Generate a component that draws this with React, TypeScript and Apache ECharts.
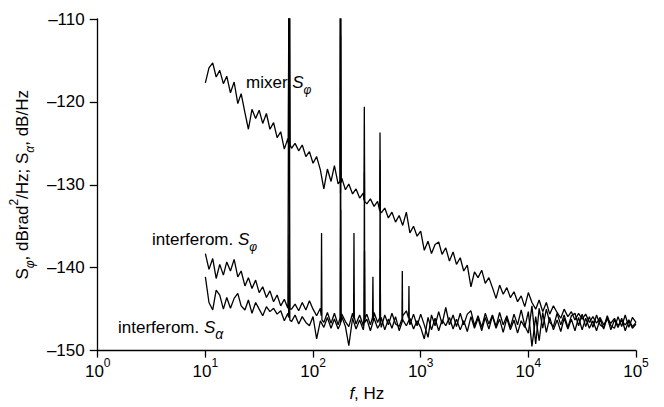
import React, { useEffect, useRef } from 'react';
import * as echarts from 'echarts';

const FONT = '"Liberation Sans", Arial, Helvetica, sans-serif';

// Frequency grid, Hz
const FREQ = [
  10, 10.8, 11.7, 12.6, 13.6, 14.7, 15.8, 17.1, 18.5, 20.0,
  21.5, 23.3, 25.1, 27.1, 29.3, 31.6, 34.1, 36.9, 39.8, 43.0,
  46.4, 50.1, 54.1, 58.4, 63.1, 68.1, 73.6, 79.4, 85.8, 92.6,
  100, 108, 117, 126, 136, 147, 158, 171, 185, 200,
  215, 233, 251, 271, 293, 316, 341, 369, 398, 430,
  464, 501, 541, 584, 631, 681, 736, 794, 858, 926,
  1000, 1080, 1170, 1260, 1360, 1470, 1580, 1710, 1850, 2000,
  2150, 2330, 2510, 2710, 2930, 3160, 3410, 3690, 3980, 4300,
  4640, 5010, 5410, 5840, 6310, 6810, 7360, 7940, 8580, 9260,
  10000, 10800, 11700, 12600, 13600, 14700, 15800, 17100, 18500, 20000,
  21500, 23300, 25100, 27100, 29300, 31600, 34100, 36900, 39800, 43000,
  46400, 50100, 54100, 58400, 63100, 68100, 73600, 79400, 85800, 92600,
  100000,
];

// mixer S_phi, dBrad^2/Hz
const MIXER = [
  -117.7, -115.9, -115.3, -117.0, -116.2, -117.8, -116.9, -118.9, -117.6, -120.2,
  -119.0, -121.3, -123.3, -120.9, -122.0, -121.0, -122.6, -121.4, -123.3, -122.5,
  -124.3, -123.6, -125.7, -124.4, -125.6, -125.0, -125.9, -125.2, -126.6, -126.0,
  -127.4, -126.6, -128.2, -130.5, -128.1, -129.6, -127.7, -129.9, -129.2, -130.6,
  -129.9, -131.1, -130.5, -131.6, -131.0, -132.3, -131.7, -132.6, -132.0, -133.4,
  -132.8, -134.0, -133.3, -134.5, -133.7, -134.9, -133.3, -135.8, -135.0, -136.2,
  -135.6, -137.9, -136.8, -138.3, -137.2, -136.9, -138.4, -137.6, -139.2, -138.1,
  -139.6, -138.8, -140.4, -139.7, -142.3, -140.5, -141.2, -140.3, -141.9, -141.2,
  -142.4, -143.7, -142.1, -143.2, -142.4, -143.6, -142.9, -144.1, -143.4, -144.7,
  -143.0, -144.2, -145.0, -143.9, -145.3, -144.2, -145.6, -144.6, -145.4, -146.1,
  -145.0, -145.9, -145.3, -146.3, -145.5, -146.2, -145.6, -146.6, -145.9, -146.7,
  -146.0, -146.9, -146.2, -146.7, -146.1, -147.0, -146.4, -146.9, -146.3, -147.1,
  -146.6,
];

// interferometer S_phi, dBrad^2/Hz
const INT_PHI = [
  -138.3, -140.2, -138.9, -141.3, -139.6, -140.9, -139.3, -140.4, -139.0, -141.1,
  -140.4, -142.2, -141.2, -142.5, -141.5, -143.0, -142.3, -143.6, -142.8, -144.1,
  -143.3, -144.6, -143.8, -144.9, -145.0, -144.4, -145.2, -144.2, -145.1, -144.0,
  -145.0, -145.8, -144.9, -146.6, -145.4, -146.7, -145.5, -146.9, -145.6, -146.5,
  -147.1, -145.5, -146.8, -145.7, -147.0, -145.6, -146.9, -145.4, -146.6, -147.2,
  -145.7, -146.9, -145.5, -146.8, -147.1, -145.8, -145.2, -146.9, -145.6, -147.0,
  -145.6, -146.9, -148.4, -145.7, -147.0, -145.3, -146.8, -144.8, -146.9, -145.7,
  -147.1, -145.5, -146.9, -145.6, -145.2, -147.0, -145.8, -147.2, -145.5, -146.8,
  -145.7, -147.1, -145.4, -146.9, -145.8, -147.2, -145.6, -146.9, -145.1, -147.0,
  -147.9, -144.6, -149.2, -144.9, -147.3, -145.0, -146.6, -147.1, -145.5, -146.9,
  -145.7, -147.2, -145.8, -145.5, -147.0, -145.6, -147.1, -145.9, -147.2, -145.7,
  -146.9, -147.2, -145.8, -147.0, -147.3, -145.9, -147.1, -145.7, -147.2, -146.0,
  -146.6,
];

// interferometer S_alpha, dB/Hz
const INT_ALPHA = [
  -141.1, -144.2, -145.1, -142.7, -143.3, -145.0, -143.6, -144.9, -143.7, -143.1,
  -144.6, -145.1, -143.9, -145.5, -144.2, -145.0, -145.8, -144.7, -145.3, -144.9,
  -145.6, -145.2, -146.4, -145.5, -146.5, -145.7, -146.8, -145.9, -146.6, -147.0,
  -145.9, -148.6, -146.4, -147.2, -146.0, -147.3, -146.2, -147.4, -145.9, -147.1,
  -149.4, -146.1, -147.4, -146.3, -147.5, -146.2, -147.6, -146.1, -147.3, -146.0,
  -147.5, -146.2, -147.3, -145.9, -147.6, -146.3, -147.0, -146.1, -147.4, -146.4,
  -147.2, -148.6, -146.0, -147.5, -146.1, -147.6, -146.3, -147.0, -146.0, -147.4,
  -146.2, -147.5, -146.4, -147.7, -145.9, -147.3, -146.1, -147.6, -146.0, -147.4,
  -145.8, -147.3, -146.2, -147.8, -146.1, -147.5, -146.3, -147.9, -146.4, -147.2,
  -145.3, -149.5, -145.9, -148.8, -145.4, -147.8, -146.0, -147.5, -146.3, -147.7,
  -146.1, -147.4, -146.2, -147.6, -146.0, -147.5, -146.1, -147.3, -146.4, -147.6,
  -146.2, -147.4, -146.0, -147.5, -146.3, -147.2, -146.1, -147.6, -146.4, -147.3,
  -146.8,
];

// mains-harmonic spikes [f, value]
const MIXER_SPIKES = [
  [59.0, -125.0], [59.6, -105], [60.2, -146], [60.8, -105], [61.4, -125.2],
  [177.5, -129.6], [178.5, -105], [180.0, -131], [181.5, -105], [183.0, -129.7],
  [297, -131.9], [299.5, -120.6], [302, -132.0],
  [416, -133.1], [419, -123.7], [422, -133.2],
];
const INT_PHI_SPIKES = [
  [59.1, -144.9], [59.7, -105], [60.4, -105], [61.0, -145.0],
  [119, -145.8], [120, -135.8], [121, -146.3],
  [178.8, -146.0], [180.2, -112], [181.6, -146.2],
  [238, -146.1], [240, -135.8], [242, -146.0],
  [297.5, -146.1], [300, -128.5], [302.5, -146.2],
  [357, -146.0], [360, -141.1], [363, -146.4],
  [417, -146.0], [420, -127], [423, -146.3],
  [670, -146.2], [675, -140.4], [679, -146.3],
  [773, -146.1], [778, -142.2], [783, -146.4],
];
const INT_ALPHA_SPIKES = [
  [59.3, -146.0], [60.1, -136], [60.9, -146.3],
  [179.2, -146.8], [180.6, -133], [182, -146.6],
  [298.5, -146.7], [300.8, -138], [303, -146.6],
  [418.5, -146.8], [421, -139], [423.5, -146.5],
];

function build(vals: number[], spikes: number[][]) {
  const pts = FREQ.map((f, i) => [f, vals[i]]);
  return pts.concat(spikes).sort((a, b) => a[0] - b[0]);
}

export default function App() {
  const ref = useRef<HTMLDivElement>(null);
  useEffect(() => {
    const chart = echarts.init(ref.current!, null, { renderer: 'svg' });
    const line = (name: string, data: number[][]) => ({
      name,
      type: 'line',
      data,
      showSymbol: false,
      symbol: 'none',
      clip: true,
      lineStyle: { color: '#000', width: 1.3 },
      z: 2,
    });
    const txt = { fontFamily: FONT, color: '#000' };
    const labelRich = (subSize: number) => ({
      i: { fontSize: 17, fontFamily: FONT, fontStyle: 'italic', lineHeight: 28 },
      sub: { fontSize: subSize, fontFamily: FONT, fontStyle: 'italic', lineHeight: subSize, verticalAlign: 'bottom' },
    });
    const label = (x: number, y: number, text: string, subSize: number) => ({
      type: 'text',
      x,
      y,
      style: {
        text,
        fontSize: 17,
        fontFamily: FONT,
        fill: '#000',
        lineHeight: 28,
        verticalAlign: 'middle',
        rich: labelRich(subSize),
      },
    });
    chart.setOption({
      animation: false,
      backgroundColor: '#fff',
      textStyle: { fontFamily: FONT },
      grid: { left: 96, right: 28, top: 19, bottom: 55, containLabel: false },
      xAxis: {
        type: 'log',
        logBase: 10,
        min: 1,
        max: 100000,
        splitLine: { show: false },
        minorTick: { show: false },
        axisLine: { lineStyle: { color: '#000', width: 1.3 } },
        axisTick: { length: 7, lineStyle: { color: '#000', width: 1.3 } },
        axisLabel: {
          margin: 6,
          formatter: (v: number) => `{b|10}{sup|${Math.round(Math.log10(v))}}`,
          rich: {
            b: { ...txt, fontSize: 17, lineHeight: 30 },
            sup: { ...txt, fontSize: 12, lineHeight: 12, verticalAlign: 'top' },
          },
        },
        name: '{i|f}{t|, Hz}',
        nameLocation: 'middle',
        nameGap: 17,
        nameTextStyle: {
          rich: {
            i: { ...txt, fontSize: 17, lineHeight: 20, fontStyle: 'italic' },
            t: { ...txt, fontSize: 17, lineHeight: 20 },
          },
        },
      },
      yAxis: {
        type: 'value',
        min: -150,
        max: -110,
        interval: 10,
        splitLine: { show: false },
        axisLine: { show: true, lineStyle: { color: '#000', width: 1.3 } },
        axisTick: { show: true, length: 8, lineStyle: { color: '#000', width: 1.3 } },
        axisLabel: {
          margin: 13,
          fontSize: 17,
          fontFamily: FONT,
          color: '#000',
          formatter: (v: number) => (v < 0 ? '\u2013' + Math.abs(v) : String(v)),
        },
        name: '{t|S}{sub|φ}{t|, dBrad}{sup|2}{t|/Hz; S}{sub|α}{t|, dB/Hz}',
        nameLocation: 'middle',
        nameGap: 49,
        nameTextStyle: {
          rich: {
            t: { ...txt, fontSize: 17, lineHeight: 28 },
            sub: { ...txt, fontSize: 12, lineHeight: 12, fontStyle: 'italic', verticalAlign: 'bottom' },
            sup: { ...txt, fontSize: 12, lineHeight: 12, verticalAlign: 'top' },
          },
        },
      },
      graphic: [
        label(246, 82, 'mixer {i|S}{sub|φ}', 12),
        label(152, 239, 'interferom. {i|S}{sub|φ}', 12),
        label(118, 327, 'interferom. {i|S}{sub|α}', 14),
      ],
      series: [
        line('interferom. S_alpha', build(INT_ALPHA, INT_ALPHA_SPIKES)),
        line('interferom. S_phi', build(INT_PHI, INT_PHI_SPIKES)),
        line('mixer S_phi', build(MIXER, MIXER_SPIKES)),
      ],
    });
    return () => chart.dispose();
  }, []);
  return (
    <div
      ref={ref}
      style={{ position: 'fixed', left: 0, top: 0, width: 664, height: 407, background: '#fff' }}
    />
  );
}
